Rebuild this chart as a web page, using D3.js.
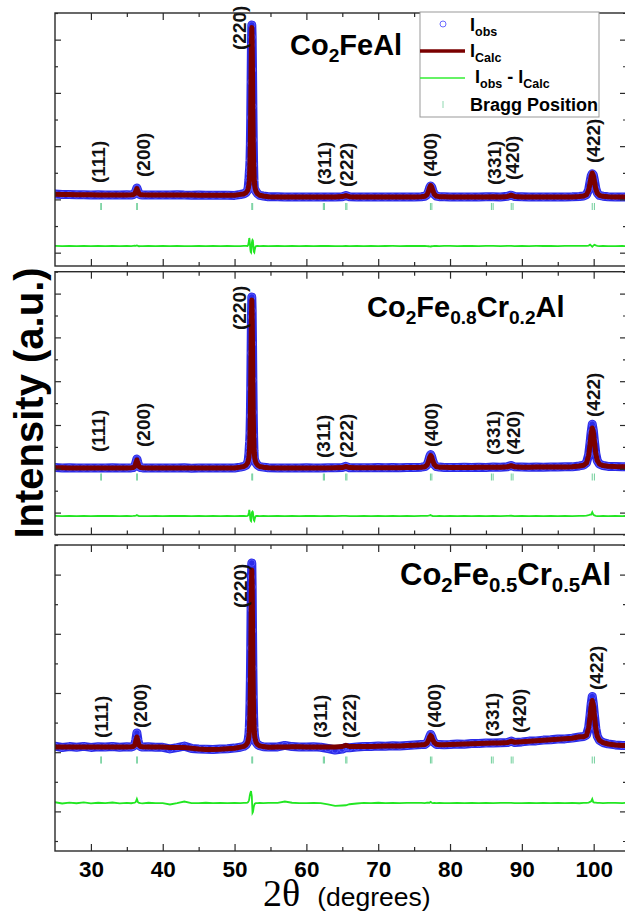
<!DOCTYPE html>
<html><head><meta charset="utf-8">
<script src="https://cdn.jsdelivr.net/npm/d3@7"></script>
<style>body{margin:0;background:#fff}svg{display:block}</style>
</head><body>
<script>
// ---------- DATA ----------
const twoTheta = [
 25,26,27,28,29,30,31,32,33,34,35,
 35.6,35.9,36.1,36.25,36.4,36.55,36.7,36.9,37.2,
 38,39,40,41,42,43,44,45,46,47,48,49,50,
 50.8,51.3,51.6,51.8,51.9,52.0,52.05,52.1,52.15,52.2,52.25,52.3,52.35,52.4,52.45,52.5,52.55,52.6,52.65,52.7,52.75,52.8,52.9,53.0,53.2,53.5,54.0,54.7,
 56,57,58,59,60,61,62,63,64,
 65.0,65.5,66.0,
 67,68,69,70,71,72,73,74,75,
 76.0,76.5,76.8,77.0,77.15,77.3,77.45,77.6,77.8,78.1,78.5,79.2,
 80,81,82,83,84,85,86,87,
 88.0,88.5,89.0,
 90,91,92,93,94,95,96,97,
 98.0,98.6,99.0,99.3,99.5,99.65,99.8,99.95,100.1,100.3,100.5,100.8,101.3,102.0,
 103,104,104.5];

// Co2FeAl
const calc1 = [
 115,110,108,105,104,103,102,101,100,100,101,
 103,107,125,177,230,177,125,107,103,
 100,100,100,100,100,100,98,97,96,95,95,94,94,
 112,122,147,188,230,307,386,527,776,1184,1769,2490,3159,3450,3157,2484,1763,1175,767,516,374,292,214,168,125,95,79,67,
 62,60,60,60,60,60,60,60,60,
 68,85,66,
 60,60,60,60,60,60,60,60,60,
 66,75,107,175,249,290,260,190,118,77,67,63,
 60,60,60,60,60,62,64,62,
 72,95,72,
 62,60,60,60,60,60,60,62,
 69,79,105,197,343,473,540,492,372,218,137,94,74,66,
 62,60,60];
const obs1 = [
 118,108,110,103,106,101,104,99,102,98,103,
 100,110,130,180,240,180,120,105,100,
 102,98,101,99,103,98,97,99,94,97,93,96,92,
 110,125,150,188,250,407,546,637,796,1114,1649,2360,3099,3500,3257,2604,1873,1205,707,396,244,212,194,168,128,92,80,66,
 63,58,61,59,62,58,61,60,59,
 66,88,64,
 61,59,62,58,60,61,59,62,60,
 66,76,105,170,240,280,255,188,118,78,66,64,
 61,59,60,62,59,63,65,61,
 74,97,70,
 63,59,61,60,62,58,61,63,
 70,80,108,205,370,480,525,500,395,230,140,92,76,65,
 61,60,59];

// Co2Fe0.8Cr0.2Al
const calc2 = [
 105,103,102,101,100,100,100,100,100,100,100,
 104,109,131,194,260,194,131,109,104,
 100,100,100,100,100,100,100,100,100,100,100,100,100,
 117,130,157,197,241,318,399,540,789,1195,1780,2499,3168,3460,3168,2499,1780,1195,789,540,399,318,241,197,157,130,117,107,
 100,100,100,100,100,100,100,102,104,
 108,130,108,
 105,105,105,106,106,107,107,108,110,
 116,126,159,230,307,350,319,242,170,128,117,113,
 110,110,112,112,113,114,116,116,
 125,145,125,
 116,116,118,118,120,120,122,124,
 139,155,198,347,582,792,900,823,629,381,249,179,148,134,
 128,126,126];
const obs2 = [
 108,101,104,99,102,98,101,100,103,99,101,
 102,110,135,200,280,200,128,108,102,
 99,102,98,101,100,103,97,101,99,102,98,100,99,
 117,132,155,200,255,390,520,620,800,1140,1690,2400,3120,3520,3250,2590,1860,1215,745,450,300,258,228,197,158,128,118,105,
 102,98,101,99,103,100,98,104,103,
 110,133,106,
 104,107,103,108,105,108,106,110,109,
 117,128,162,236,318,368,325,240,168,127,118,112,
 111,108,114,111,115,112,118,115,
 127,150,123,
 118,114,120,117,122,119,124,123,
 141,157,205,365,610,820,975,850,640,385,248,178,150,132,
 130,125,127];

// Co2Fe0.5Cr0.5Al
const calc3 = [
 100,100,100,100,100,100,100,100,100,100,100,
 105,111,138,218,300,218,138,111,105,
 100,100,98,92,90,88,75,60,50,50,55,65,75,
 98,112,141,183,230,311,397,546,810,1241,1860,2622,3330,3640,3335,2627,1865,1246,815,553,404,318,238,191,151,122,108,97,
 100,102,103,103,102,100,100,98,98,
 110,135,110,
 108,110,112,115,118,120,122,128,135,
 145,152,179,235,296,330,305,245,188,155,147,145,
 150,155,160,165,170,175,180,182,
 188,215,195,
 205,215,225,235,245,255,265,275,
 305,307,336,482,718,927,1030,944,732,462,315,232,189,160,
 140,130,128];
const obs3 = [
 115,90,108,95,112,92,105,98,110,94,103,
 100,115,145,240,380,235,140,108,98,
 105,96,94,62,88,118,72,58,55,48,58,63,78,
 95,115,145,190,250,360,480,680,980,1440,2080,2860,3500,3780,3300,2430,1680,1100,720,490,370,300,230,190,150,125,105,100,
 102,132,108,100,98,104,96,70,40,
 60,90,85,
 98,112,110,120,115,124,118,130,138,
 148,150,185,240,300,352,310,243,190,152,149,143,
 148,158,157,168,168,178,178,185,
 190,218,192,
 202,218,222,238,243,258,262,278,
 300,310,340,490,740,960,1110,960,740,470,318,235,188,162,
 142,128,130];

// Bragg positions (K-alpha1 and K-alpha2)
const braggK1 = [31.38, 36.38, 52.40, 62.36, 65.48, 77.27, 85.76, 88.52, 99.80];
const braggK2 = [31.45, 36.46, 52.52, 62.51, 65.64, 77.47, 86.00, 88.77, 100.10];
const hkl = ["(111)","(200)","(220)","(311)","(222)","(400)","(331)","(420)","(422)"];

// hkl label anchors (2theta of label centre, intensity of label bottom)
const labelTT1 = [31.06, 37.26, 50.63, 62.47, 65.53, 77.23, 86.14, 88.65, 99.93];
const labelI1  = [340, 460, 3000, 300, 260, 460, 300, 400, 740];
const labelTT2 = [31.0, 37.26, 50.63, 62.33, 65.53, 77.45, 86.0, 88.79, 99.93];
const labelI2  = [420, 520, 2860, 300, 300, 520, 360, 360, 1120];
const labelTT3 = [31.41, 36.9, 50.77, 61.9, 65.95, 77.79, 85.86, 89.6, 100.4];
const labelI3  = [280, 480, 2880, 280, 280, 480, 300, 380, 1240];

const xTickMajor = [30, 40, 50, 60, 70, 80, 90, 100];
const xTickMinor = [35, 45, 55, 65, 75, 85, 95];
const xTickLabels = ["30","40","50","60","70","80","90","100"];

const titles = [
 [["Co",0],["2",1],["Fe",0],["Al",0]],
 [["Co",0],["2",1],["Fe",0],["0.8",1],["Cr",0],["0.2",1],["Al",0]],
 [["Co",0],["2",1],["Fe",0],["0.5",1],["Cr",0],["0.5",1],["Al",0]]
];

// y domains / residual offsets / Bragg tick level (intensity units)
const yDomains = [[-1320, 3740], [-1230, 4026], [-1980, 4140]];
const yTickSteps = [532.6, 438, 592];
const diffOffsets = [-920, -860, -1020];
const braggLevels = [-130, -80, -160];

// ---------- LAYOUT ----------
const W = 625, H = 915;
const X0 = 55, X1 = 626;
const boxes = [{top: 13, bottom: 266}, {top: 271.7, bottom: 534.5}, {top: 545, bottom: 851}];
const titlePos = [[290, 55, 29], [367, 316.7, 29], [400, 585, 31]];
const FONT = "'Liberation Sans', Arial, Helvetica, sans-serif";

const svg = d3.select("body").append("svg").attr("width", W).attr("height", H)
  .style("font-family", FONT);

const x = d3.scaleLinear().domain([25, 104.5]).range([X0, X1]);

const series = [[obs1, calc1], [obs2, calc2], [obs3, calc3]];
const labelsTT = [labelTT1, labelTT2, labelTT3];
const labelsI = [labelI1, labelI2, labelI3];

boxes.forEach((b, i) => {
  const [obs, calc] = series[i];
  const y = d3.scaleLinear().domain(yDomains[i]).range([b.bottom, b.top]);
  const g = svg.append("g");
  const clipId = "clip" + i;
  svg.append("clipPath").attr("id", clipId).append("rect")
    .attr("x", X0).attr("y", b.top).attr("width", X1 - X0).attr("height", b.bottom - b.top);
  const data = twoTheta.map((t, k) => ({t, o: obs[k], c: calc[k]}));
  const dg = g.append("g").attr("clip-path", `url(#${clipId})`);

  // residual
  const diffLine = d3.line().x(d => x(d.t)).y(d => y(diffOffsets[i] + d.o - d.c));
  dg.append("path").datum(data).attr("d", diffLine)
    .attr("fill", "none").attr("stroke", "#22e622").attr("stroke-width", 1.8);

  // Bragg ticks
  const bt = braggK1.concat(braggK2);
  dg.selectAll(".bragg").data(bt).join("line")
    .attr("x1", d => x(d)).attr("x2", d => x(d))
    .attr("y1", y(braggLevels[i]) - 3.5).attr("y2", y(braggLevels[i]) + 3.5)
    .attr("stroke", "#6fcf9a").attr("stroke-width", 1);

  // observed band + circles
  const obsLine = d3.line().x(d => x(d.t)).y(d => y(d.o));
  dg.append("path").datum(data).attr("d", obsLine)
    .attr("fill", "none").attr("stroke", "#2b2be8").attr("stroke-width", 9)
    .attr("stroke-linejoin", "round").attr("stroke-linecap", "round");
  dg.selectAll(".obs").data(data).join("circle")
    .attr("cx", d => x(d.t)).attr("cy", d => y(d.o)).attr("r", 3.2)
    .attr("fill", "none").attr("stroke", "#5a5aff").attr("stroke-width", 0.9);

  // calculated
  const calcLine = d3.line().x(d => x(d.t)).y(d => y(d.c));
  dg.append("path").datum(data).attr("d", calcLine)
    .attr("fill", "none").attr("stroke", "#7a0000").attr("stroke-width", 5)
    .attr("stroke-linejoin", "round").attr("stroke-linecap", "round");

  // hkl labels
  hkl.forEach((h, k) => {
    g.append("text")
      .attr("transform", `translate(${x(labelsTT[i][k])},${y(labelsI[i][k])}) rotate(-90)`)
      .attr("dy", "0.35em").attr("font-size", 19).attr("font-weight", "bold")
      .attr("fill", "#111").text(h);
  });

  // title
  const fs = titlePos[i][2], fsub = fs * 0.66, shift = fs * 0.24;
  const tt = g.append("text").attr("x", titlePos[i][0]).attr("y", titlePos[i][1])
    .attr("font-weight", "bold").attr("font-size", fs).attr("fill", "#000");
  let sub = false;
  titles[i].forEach(([s, isSub]) => {
    const ts = tt.append("tspan").text(s);
    if (isSub && !sub) { ts.attr("dy", shift).attr("font-size", fsub); sub = true; }
    else if (isSub && sub) { ts.attr("font-size", fsub); }
    else if (!isSub && sub) { ts.attr("dy", -shift); sub = false; }
  });

  // frame
  g.append("rect").attr("x", X0).attr("y", b.top).attr("width", X1 - X0).attr("height", b.bottom - b.top)
    .attr("fill", "none").attr("stroke", "#2a2a2a").attr("stroke-width", 1.4);

  // y ticks
  const yt = [];
  for (let v = yDomains[i][1], k = 0; v >= yDomains[i][0] - 1e-6; v -= yTickSteps[i], k++) yt.push({v, major: k % 2 === 1});
  const yMaj = yt.filter(d => d.major).map(d => d.v);
  const yMin = yt.filter(d => !d.major).map(d => d.v);
  const axStyle = sel => { sel.select(".domain").remove(); sel.selectAll("line").attr("stroke", "#2a2a2a").attr("stroke-width", 1.2); };
  g.append("g").attr("transform", `translate(${X0},0)`).call(d3.axisLeft(y).tickValues(yMaj).tickSize(-6).tickFormat("")).call(axStyle);
  g.append("g").attr("transform", `translate(${X0},0)`).call(d3.axisLeft(y).tickValues(yMin).tickSize(-3).tickFormat("")).call(axStyle);
  g.append("g").attr("transform", `translate(${X1},0)`).call(d3.axisRight(y).tickValues(yMaj).tickSize(-6).tickFormat("")).call(axStyle);
  g.append("g").attr("transform", `translate(${X1},0)`).call(d3.axisRight(y).tickValues(yMin).tickSize(-3).tickFormat("")).call(axStyle);

  // x ticks top and bottom
  g.append("g").attr("transform", `translate(0,${b.top})`).call(d3.axisTop(x).tickValues(xTickMajor).tickSize(-7).tickFormat("")).call(axStyle);
  g.append("g").attr("transform", `translate(0,${b.top})`).call(d3.axisTop(x).tickValues(xTickMinor).tickSize(-4).tickFormat("")).call(axStyle);
  const bx = g.append("g").attr("transform", `translate(0,${b.bottom})`)
    .call(d3.axisBottom(x).tickValues(xTickMajor).tickSize(-7)
      .tickFormat((d, k) => i === 2 ? xTickLabels[k] : ""));
  bx.call(axStyle);
  bx.selectAll("text").attr("font-size", 22.5).attr("font-weight", "bold").attr("fill", "#000")
    .attr("font-family", FONT).attr("y", 10).attr("dy", "0.71em");
  g.append("g").attr("transform", `translate(0,${b.bottom})`).call(d3.axisBottom(x).tickValues(xTickMinor).tickSize(-4).tickFormat("")).call(axStyle);
});

// legend
const lg = svg.append("g");
lg.append("rect").attr("x", 420).attr("y", 12).attr("width", 179).attr("height", 105)
  .attr("fill", "#fff").attr("stroke", "#999").attr("stroke-width", 1);
lg.append("circle").attr("cx", 443).attr("cy", 24).attr("r", 3).attr("fill", "none").attr("stroke", "#6a6aff").attr("stroke-width", 1);
lg.append("line").attr("x1", 420).attr("x2", 465).attr("y1", 51).attr("y2", 51).attr("stroke", "#7a0000").attr("stroke-width", 3.5);
lg.append("line").attr("x1", 420).attr("x2", 465).attr("y1", 78).attr("y2", 78).attr("stroke", "#33ee33").attr("stroke-width", 1.6);
lg.append("line").attr("x1", 443).attr("x2", 443).attr("y1", 101).attr("y2", 108).attr("stroke", "#8fd8b0").attr("stroke-width", 1);
function legText(xp, yp, parts) {
  const t = lg.append("text").attr("x", xp).attr("y", yp).attr("font-size", 18).attr("font-weight", "bold").attr("fill", "#000");
  let sub = false;
  parts.forEach(([s, isSub]) => {
    const ts = t.append("tspan").text(s);
    if (isSub && !sub) { ts.attr("dy", 5).attr("font-size", 12.5); sub = true; }
    else if (!isSub && sub) { ts.attr("dy", -5); sub = false; }
  });
}
legText(470, 31, [["I",0],["obs",1]]);
legText(470, 57, [["I",0],["Calc",1]]);
legText(475, 83, [["I",0],["obs",1],[" - I",0],["Calc",1]]);
legText(470, 111, [["Bragg Position",0]]);

// axis titles
svg.append("text").attr("transform", "translate(43,403) rotate(-90)").attr("text-anchor", "middle")
  .attr("font-size", 40).attr("font-weight", "bold").attr("fill", "#000").text("Intensity (a.u.)");
const xl = svg.append("text").attr("x", 263).attr("y", 906).attr("fill", "#000");
xl.append("tspan").attr("font-family", "'Liberation Serif', 'Times New Roman', serif").attr("font-size", 38).text("2θ");
xl.append("tspan").attr("dx", 17).attr("font-size", 26.5).text("(degrees)");
</script>
</body></html>
